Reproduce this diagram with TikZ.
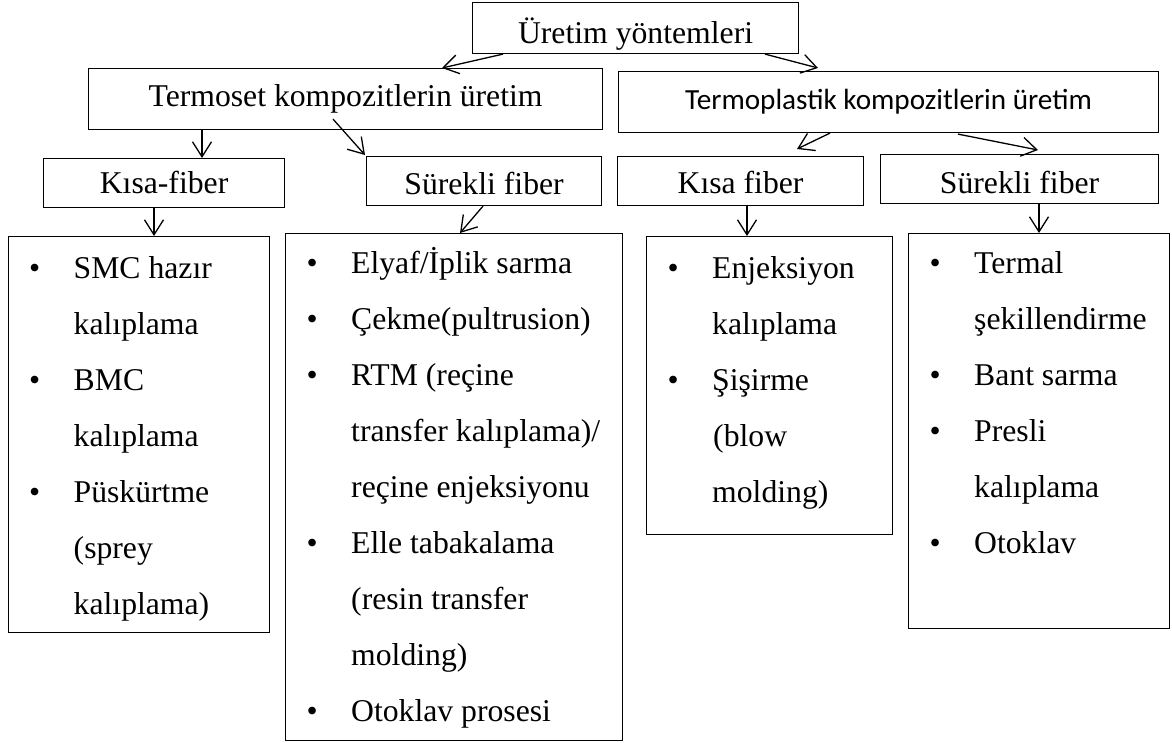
\documentclass[tikz,border=0pt]{standalone}
\usepackage{fontspec}
\setmainfont{Liberation Serif}
\newfontfamily\calibfont{Carlito}
\usetikzlibrary{arrows.meta,calc}

\tikzset{
  box/.style={draw, line width=1.1pt, inner sep=0pt, anchor=north west,
    font=\fontsize{31.7}{38}\selectfont},
  % baseline placed a fixed distance below the box centre
  lowered/.style={text height=#1, text depth=0pt},
  listtxt/.style={inner sep=0pt, anchor=base west,
    font=\fontsize{31.7}{56}\selectfont},
  arr/.style={line width=1.3pt, -{Straight Barb[length=15pt,width=19pt,line width=1.3pt]}}
}

% bullet list: first column holds the bullet, second the text
\newcommand{\bl}{\textbullet}
\newenvironment{bulletlist}{\begin{tabular}[t]{@{}p{44.5pt}@{}l@{}}}{\end{tabular}}

\begin{document}
\begin{tikzpicture}[x=1pt,y=-1pt]
\useasboundingbox (0,0) rectangle (1172,742);

% top level
\node[box, lowered=30pt, minimum width=326, minimum height=51] (root) at (472,2) {Üretim yöntemleri};

% second level
\node[box, minimum width=514, minimum height=61] (termoset) at (88,68) {Termoset kompozitlerin üretim};
\node[box, minimum width=540, minimum height=61, font=\calibfont\fontsize{29.2}{36}\selectfont]
  (termoplastik) at (618,71) {Termoplastik kompozitlerin üretim};

% third level
\node[box, lowered=21pt, minimum width=241, minimum height=49] (kisaA) at (43,158) {Kısa-fiber};
\node[box, lowered=27pt, minimum width=235, minimum height=49] (surekliA) at (366,156) {Sürekli fiber};
\node[box, lowered=25pt, minimum width=246, minimum height=49] (kisaB) at (617,156) {Kısa fiber};
\node[box, lowered=29pt, minimum width=278, minimum height=49] (surekliB) at (880,154) {Sürekli fiber};

% method lists
\node[box, minimum width=261, minimum height=396] (listA) at (8,236) {};
\node[box, minimum width=337, minimum height=507] (listB) at (285,233) {};
\node[box, minimum width=246, minimum height=298] (listC) at (646,236) {};
\node[box, minimum width=261, minimum height=395] (listD) at (908,233) {};

\node[listtxt] (listAtext) at (29,278) {\begin{bulletlist}
\bl & SMC hazır\\
    & kalıplama\\
\bl & BMC\\
    & kalıplama\\
\bl & Püskürtme\\
    & (sprey\\
    & kalıplama)
\end{bulletlist}};

\node[listtxt] (listBtext) at (306.5,273) {\begin{bulletlist}
\bl & Elyaf/İplik sarma\\
\bl & Çekme(pultrusion)\\
\bl & RTM (reçine\\
    & transfer kalıplama)/\\
    & reçine enjeksiyonu\\
\bl & Elle tabakalama\\
    & (resin transfer\\
    & molding)\\
\bl & Otoklav prosesi
\end{bulletlist}};

\node[listtxt] (listCtext) at (667.5,278) {\begin{bulletlist}
\bl & Enjeksiyon\\
    & kalıplama\\
\bl & Şişirme\\
    & \hspace{1pt}(blow\\
    & molding)
\end{bulletlist}};

\node[listtxt] (listDtext) at (929.5,273) {\begin{bulletlist}
\bl & Termal\\
    & şekillendirme\\
\bl & Bant sarma\\
\bl & Presli\\
    & kalıplama\\
\bl & Otoklav
\end{bulletlist}};

% connectors
\draw[arr] ($(root.south west)+(31,0)$) -- ($(termoset.north west)+(354,0)$);
\draw[arr] ($(root.south west)+(293,0)$) -- ($(termoplastik.north west)+(200,-3)$);

\draw[arr] ($(termoset.south west)+(114,0)$) -- ($(kisaA.north west)+(159,0)$);
\draw[arr] ($(termoset.south west)+(245,-11)$) -- ($(surekliA.north west)+(-1,-1)$);

\draw[arr] ($(termoplastik.south west)+(212,0)$) -- ($(kisaB.north west)+(180,-7)$);
\draw[arr] ($(termoplastik.south west)+(340,1)$) -- ($(surekliB.north west)+(158,-4)$);

\draw[arr] ($(kisaA.south west)+(111,0)$) -- ($(listA.north west)+(146,0)$);
\draw[arr] ($(surekliA.south west)+(117,0)$) -- ($(listB.north west)+(175,0)$);
\draw[arr] ($(kisaB.south west)+(130,0)$) -- ($(listC.north west)+(101,0)$);
\draw[arr] ($(surekliB.south west)+(159,0)$) -- ($(listD.north west)+(131,0)$);

\end{tikzpicture}
\end{document}
